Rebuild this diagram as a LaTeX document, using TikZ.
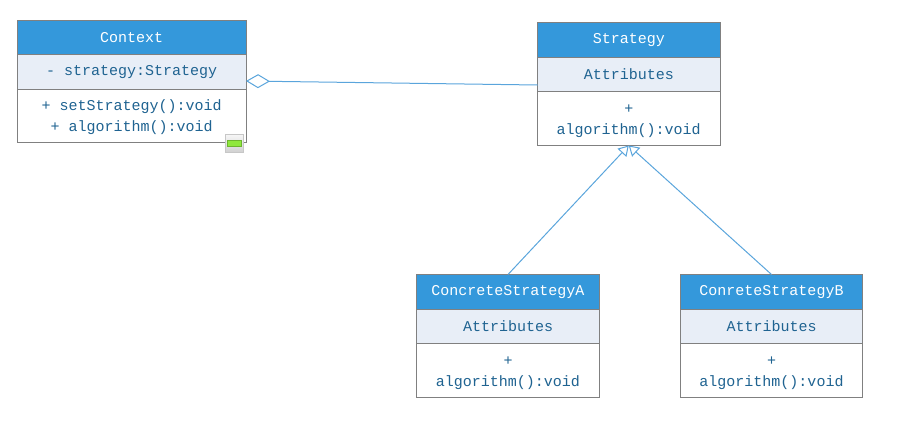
\documentclass[tikz,border=0pt]{standalone}
\usepackage{fontspec}
\usetikzlibrary{positioning,arrows.meta}
\setmonofont{Liberation Mono}
\definecolor{headblue}{HTML}{3498DB}
\definecolor{attrblue}{HTML}{E8EEF7}
\definecolor{textblue}{HTML}{1F6391}
\definecolor{linkblue}{HTML}{5AA5DC}
\definecolor{boxgray}{HTML}{808080}
\definecolor{handlegreen}{HTML}{8FE83C}
\definecolor{handleedge}{HTML}{6DB52E}
\tikzset{
	classhead/.style={draw=boxgray, line width=1pt, fill=headblue, text=white, inner sep=0pt, outer sep=0pt, font=\ttfamily\fontsize{15}{20.5}\selectfont, align=center},
	classattr/.style={classhead, fill=attrblue, text=textblue},
	classops/.style={classhead, fill=white, text=textblue, text height=35pt},
	aggregate/.style={draw=linkblue, line width=1pt, {Diamond[open, fill=white, length=24pt, width=14pt]}-},
	inherit/.style={draw=linkblue, line width=1pt, -{Triangle[open, fill=white, length=10pt, width=12pt]}}
}
\begin{document}
\begin{tikzpicture}[x=1pt, y=-1pt]
	\useasboundingbox (0,0) rectangle (904,426);
	
	% Context
	\node[classhead, minimum width=228.5pt, minimum height=34pt, anchor=north west] (ctxhead) at (17.5,20.5) {Context};
	\node[classattr, minimum width=228.5pt, minimum height=34.5pt, below=0pt of ctxhead] (ctxattr) {- strategy:Strategy};
	\node[classops, minimum width=228.5pt, minimum height=53pt, below=0pt of ctxattr] (ctxops) {+ setStrategy():void\\+ algorithm():void};
	
	% Strategy
	\node[classhead, minimum width=182.5pt, minimum height=35pt, anchor=north west] (strhead) at (537.5,22.5) {Strategy};
	\node[classattr, minimum width=182.5pt, minimum height=33.5pt, below=0pt of strhead] (strattr) {Attributes};
	\node[classops, minimum width=182.5pt, minimum height=54.5pt, below=0pt of strattr] (strops) {+\\algorithm():void};
	
	% ConcreteStrategyA
	\node[classhead, minimum width=183pt, minimum height=34.5pt, anchor=north west] (ahead) at (416.5,274.5) {ConcreteStrategyA};
	\node[classattr, minimum width=183pt, minimum height=34pt, below=0pt of ahead] (aattr) {Attributes};
	\node[classops, minimum width=183pt, minimum height=54.5pt, below=0pt of aattr] (aops) {+\\algorithm():void};
	
	% ConreteStrategyB
	\node[classhead, minimum width=182pt, minimum height=34.5pt, anchor=north west] (bhead) at (680.5,274.5) {ConreteStrategyB};
	\node[classattr, minimum width=182pt, minimum height=34pt, below=0pt of bhead] (battr) {Attributes};
	\node[classops, minimum width=182pt, minimum height=54.5pt, below=0pt of battr] (bops) {+\\algorithm():void};
	
	% Aggregation
	\draw[aggregate] ([yshift=8pt]ctxattr.south east) -- ([yshift=6pt]strattr.south west);
	
	% Inheritance
	\draw[inherit] (ahead.north) -- (strops.south);
	\draw[inherit] (bhead.north) -- (strops.south);
	
	% Collapse handle
	\node[draw=black!22, top color=black!3, bottom color=black!18, line width=1pt, minimum size=18pt, inner sep=0pt, anchor=north west] (handle) at (224.5,133.5) {};
	\node[draw=handleedge, fill=handlegreen, line width=1pt, minimum width=14pt, minimum height=6pt, inner sep=0pt] (handlebar) at (handle.center) {};
\end{tikzpicture}
\end{document}
